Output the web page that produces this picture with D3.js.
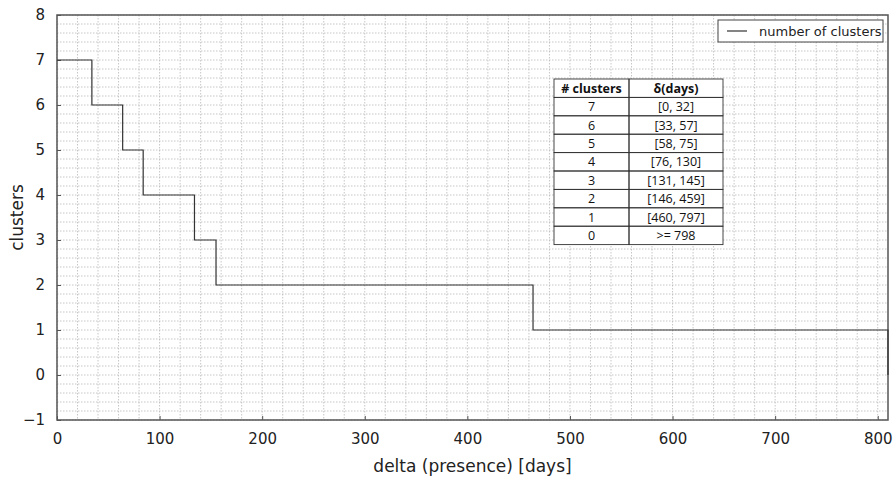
<!DOCTYPE html>
<html>
<head>
<meta charset="utf-8">
<script src="https://cdn.jsdelivr.net/npm/d3@7"></script>
<style>
  body { margin: 0; background: #fff; }
  text { font-family: "DejaVu Sans", sans-serif; }
</style>
</head>
<body>
<div id="chart"></div>
<script>
// step changes
var stepDays = [0, 34, 64, 84, 134, 155, 464, 810];
var stepClusters = [7, 6, 5, 4, 3, 2, 1, 0];

var xTicks = [0, 100, 200, 300, 400, 500, 600, 700, 800];
var yTicks = [-1, 0, 1, 2, 3, 4, 5, 6, 7, 8];

// table in the plot
var tableHeader = ["# clusters", "\u03b4(days)"];
var tableClusters = ["7", "6", "5", "4", "3", "2", "1", "0"];
var tableRanges = ["[0, 32]", "[33, 57]", "[58, 75]", "[76, 130]", "[131, 145]", "[146, 459]", "[460, 797]", ">= 798"];

var width = 895, height = 479;
var margin = {left: 57, right: 7, top: 15, bottom: 59};
var plotW = width - margin.left - margin.right;
var plotH = height - margin.top - margin.bottom;

var x = d3.scaleLinear().domain([0, 810]).range([0, plotW]);
var y = d3.scaleLinear().domain([-1, 8]).range([plotH, 0]);

var svg = d3.select("#chart").append("svg")
    .attr("width", width)
    .attr("height", height);

var g = svg.append("g")
    .attr("transform", "translate(" + margin.left + "," + margin.top + ")");

// minor grid, dotted
var xMinor = d3.range(0, 811, 20);
var yMinor = d3.range(-1, 8.001, 0.2);

g.append("g").selectAll("line")
    .data(xMinor)
    .enter().append("line")
    .attr("x1", function(d) { return x(d); })
    .attr("x2", function(d) { return x(d); })
    .attr("y1", 0)
    .attr("y2", plotH)
    .attr("stroke", "#b8b8b8")
    .attr("stroke-width", 0.8)
    .attr("stroke-dasharray", "1.5,1.5");

g.append("g").selectAll("line")
    .data(yMinor)
    .enter().append("line")
    .attr("x1", 0)
    .attr("x2", plotW)
    .attr("y1", function(d) { return y(d); })
    .attr("y2", function(d) { return y(d); })
    .attr("stroke", "#b8b8b8")
    .attr("stroke-width", 0.8)
    .attr("stroke-dasharray", "1.5,1.5");

// axes with inward ticks
var xAxis = d3.axisBottom(x).tickValues(xTicks).tickSize(-4).tickPadding(10);
var yAxis = d3.axisLeft(y).tickValues(yTicks).tickSize(-4).tickPadding(12)
    .tickFormat(function(d) { return d < 0 ? "\u2212" + Math.abs(d) : d; });

var gx = g.append("g").attr("transform", "translate(0," + plotH + ")").call(xAxis);
var gy = g.append("g").call(yAxis);

[gx, gy].forEach(function(a) {
    a.select(".domain").remove();
    a.selectAll(".tick line").attr("stroke", "#555");
    a.selectAll("text").attr("font-size", 15).attr("fill", "#222")
        .style("font-family", "DejaVu Sans, sans-serif");
});
gx.selectAll("text").attr("dy", "0.9em");

// frame
g.append("rect")
    .attr("width", plotW)
    .attr("height", plotH)
    .attr("fill", "none")
    .attr("stroke", "#555")
    .attr("stroke-width", 1.5);

// the step line
var points = stepDays.map(function(d, i) { return [d, stepClusters[i]]; });
var line = d3.line()
    .x(function(d) { return x(d[0]); })
    .y(function(d) { return y(d[1]); })
    .curve(d3.curveStepAfter);

g.append("path")
    .datum(points)
    .attr("d", line)
    .attr("fill", "none")
    .attr("stroke", "#333")
    .attr("stroke-width", 1.2);

// axis titles
svg.append("text")
    .attr("x", margin.left + plotW / 2)
    .attr("y", 472)
    .attr("text-anchor", "middle")
    .attr("font-size", 17)
    .attr("fill", "#222")
    .text("delta (presence) [days]");

svg.append("text")
    .attr("transform", "translate(23," + (margin.top + plotH / 2) + ") rotate(-90)")
    .attr("text-anchor", "middle")
    .attr("font-size", 17)
    .attr("fill", "#222")
    .text("clusters");

// legend
var leg = svg.append("g").attr("transform", "translate(718,20)");
leg.append("rect")
    .attr("width", 165).attr("height", 22)
    .attr("fill", "#fff").attr("stroke", "#444").attr("stroke-width", 1);
leg.append("line")
    .attr("x1", 9).attr("x2", 29).attr("y1", 11).attr("y2", 11)
    .attr("stroke", "#333").attr("stroke-width", 1.2);
leg.append("text")
    .attr("x", 41).attr("y", 15.5)
    .attr("font-size", 13).attr("fill", "#222")
    .text("number of clusters");

// table
var tX = 554, tY = 79, colW = [75, 94], rowH = 18.4;
var tbl = svg.append("g").attr("transform", "translate(" + tX + "," + tY + ")");
var rows = [tableHeader].concat(tableClusters.map(function(c, i) { return [c, tableRanges[i]]; }));

tbl.append("rect")
    .attr("width", colW[0] + colW[1]).attr("height", rowH * rows.length)
    .attr("fill", "#fff");

rows.forEach(function(r, i) {
    r.forEach(function(cell, j) {
        var cx = j === 0 ? 0 : colW[0];
        tbl.append("rect")
            .attr("x", cx).attr("y", i * rowH)
            .attr("width", colW[j]).attr("height", rowH)
            .attr("fill", "none").attr("stroke", "#333").attr("stroke-width", 0.9);
        tbl.append("text")
            .attr("x", cx + colW[j] / 2)
            .attr("y", i * rowH + rowH / 2 + 4.5)
            .attr("text-anchor", "middle")
            .attr("font-size", 12.5)
            .attr("font-weight", i === 0 ? "bold" : "normal")
            .attr("fill", "#111")
            .style("font-family", "'Open Sans', 'Liberation Sans', sans-serif")
            .text(cell);
    });
});
</script>
</body>
</html>
